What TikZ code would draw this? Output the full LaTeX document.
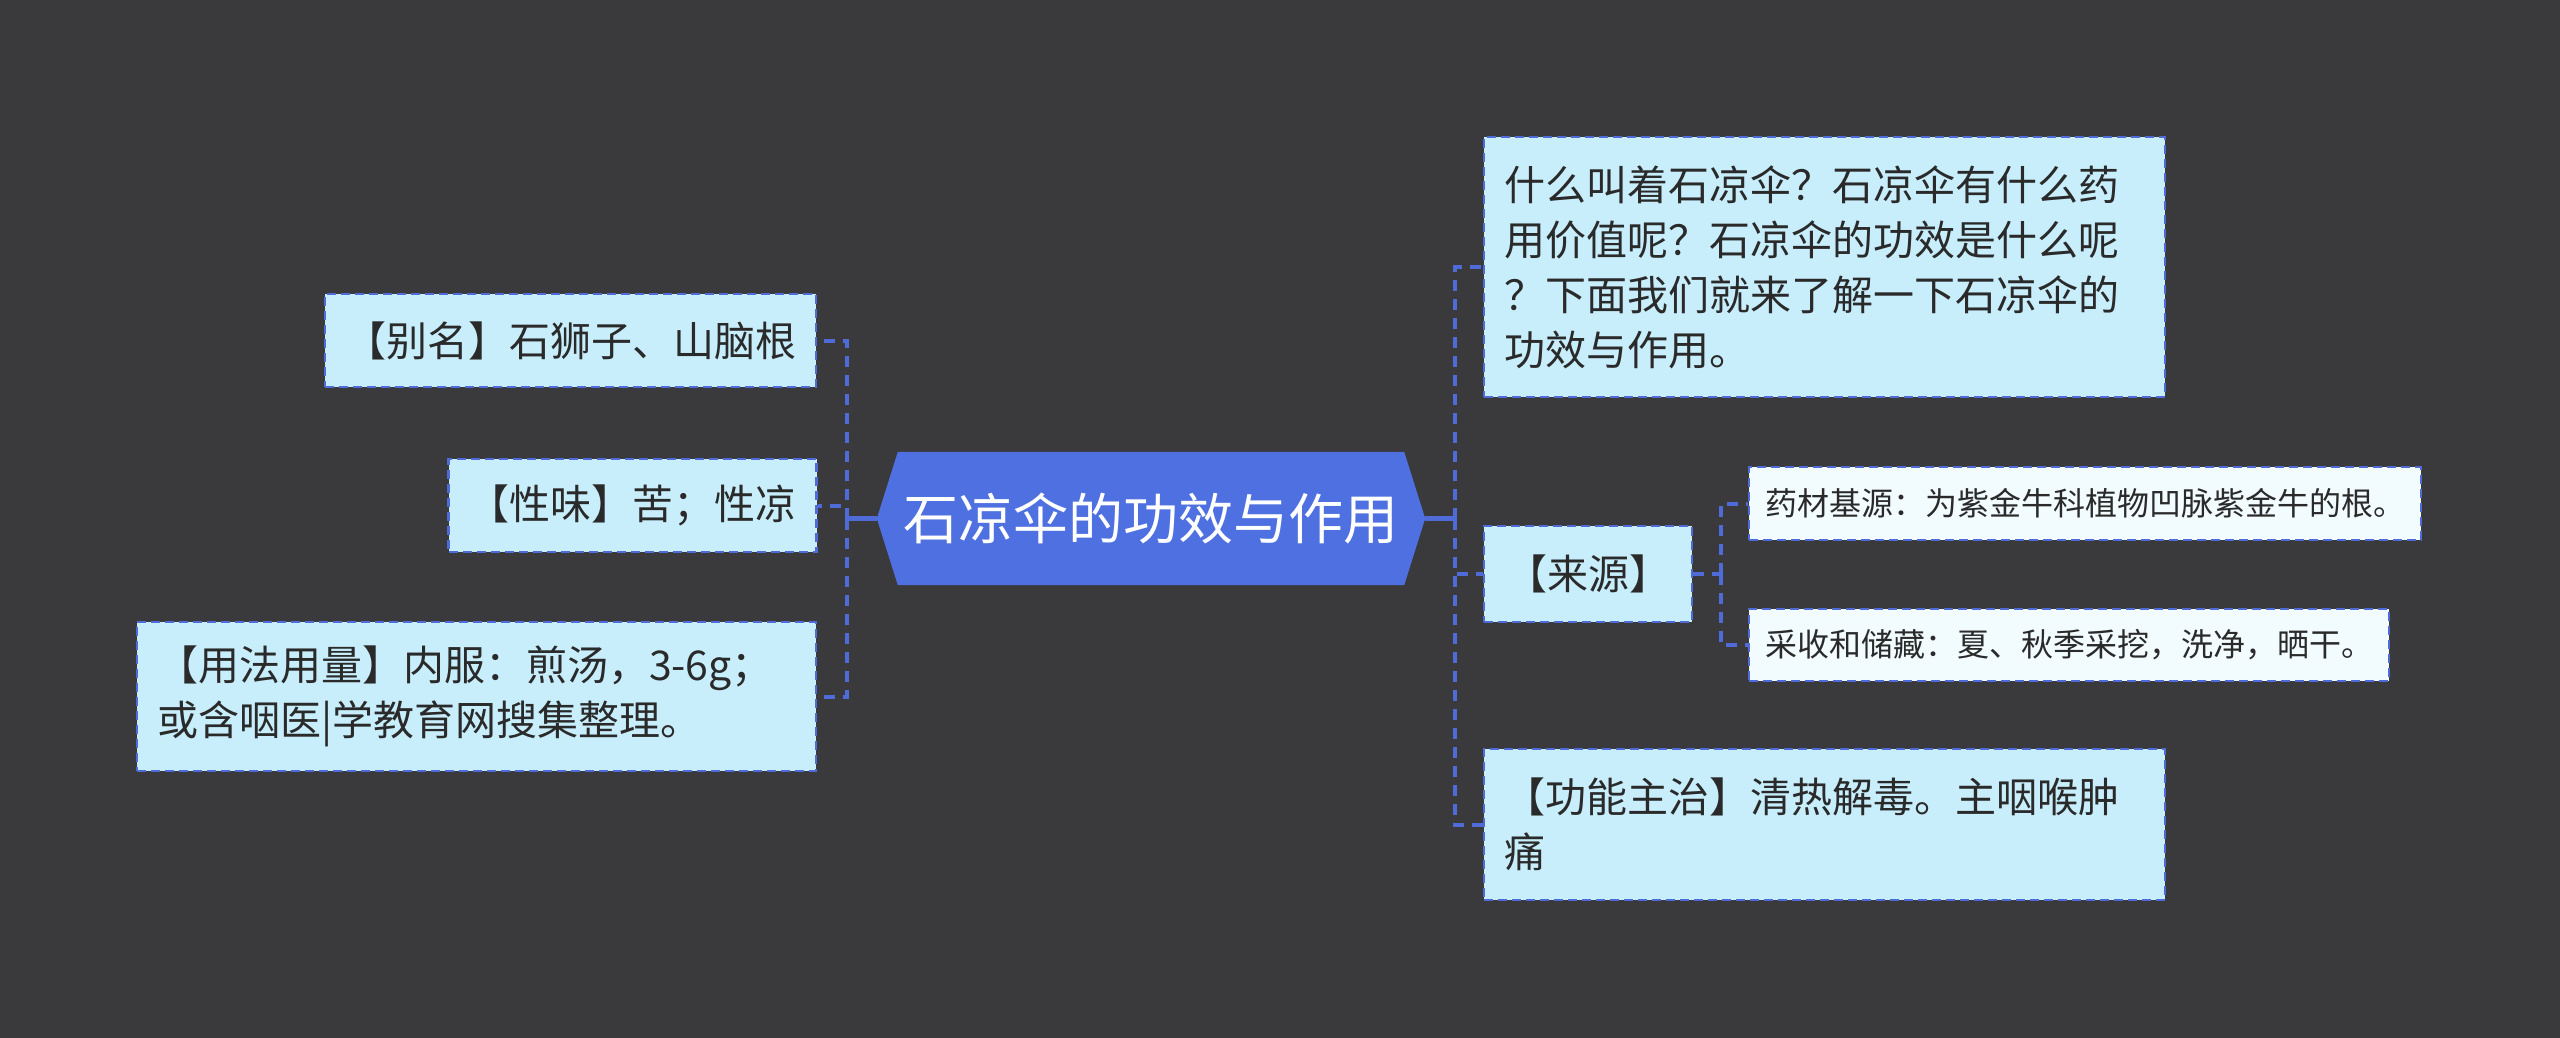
\documentclass[tikz,border=0pt]{standalone}
\usepackage{fontspec}
\setmainfont{Noto Sans CJK SC}
\usetikzlibrary{backgrounds}
\definecolor{bgc}{HTML}{3A393C}
\definecolor{hexc}{HTML}{4E70E0}
\definecolor{boxc}{HTML}{C8EEFC}
\definecolor{subc}{HTML}{F2FBFE}
\definecolor{linec}{HTML}{4F6BD8}
\definecolor{txtc}{HTML}{2A2A2A}
\begin{document}
\begin{tikzpicture}[x=1pt,y=-1pt,
  box/.style={draw=linec, line width=2.6pt, dash pattern=on 9pt off 5pt, fill=boxc, text=txtc,
    inner xsep=20pt, inner ysep=0pt, font=\fontsize{41}{55}\selectfont, align=left},
  subbox/.style={box, fill=subc, inner xsep=16pt, font=\fontsize{32}{40}\selectfont},
  hexnode/.style={minimum width=506pt, minimum height=133pt, inner sep=0pt, text=white,
    font=\fontsize{55}{60}\selectfont},
  trunk/.style={draw=linec, line width=5pt},
  branch/.style={draw=linec, line width=4pt, dash pattern=on 11pt off 8pt}]
\useasboundingbox (0,0) rectangle (2560,1038);
% central topic
\node[hexnode] (c) at (1151,518.5) {石凉伞的功效与作用};
% left side
\node[box, minimum width=491pt, minimum height=93pt] (a) at (570.5,340.5) {【别名】石狮子、山脑根};
\node[box, minimum width=367pt, minimum height=93pt] (b) at (632.5,505.5) {【性味】苦；性凉};
\node[box, text width=639pt, minimum height=149pt] (u) at (476.5,696.5)
  {【用法用量】内服：煎汤，3-6g；\\或含咽医|学教育网搜集整理。};
% right side
\node[box, text width=641pt, minimum height=260pt] (t) at (1824.5,267)
  {什么叫着石凉伞？石凉伞有什么药\\用价值呢？石凉伞的功效是什么呢\\？下面我们就来了解一下石凉伞的\\功效与作用。};
\node[box, minimum width=208pt, minimum height=96pt] (s) at (1588,574) {【来源】};
\node[box, text width=641pt, minimum height=151pt] (f) at (1824.5,824.5)
  {【功能主治】清热解毒。主咽喉肿\\痛};
\node[subbox, minimum width=672pt, minimum height=73pt] (s1) at (2085,503.5) {药材基源：为紫金牛科植物凹脉紫金牛的根。};
\node[subbox, minimum width=640pt, minimum height=72pt] (s2) at (2069,645) {采收和储藏：夏、秋季采挖，洗净，晒干。};
\begin{scope}[on background layer]
  \fill[bgc] (0,0) rectangle (2560,1038);
  \fill[hexc] ([xshift=-21pt]c.west) coordinate (cl) -- (c.north west) -- (c.north east)
    -- ([xshift=21pt]c.east) coordinate (cr) -- (c.south east) -- (c.south west) -- cycle;
  \coordinate (L) at (847,518.5);
  \coordinate (R) at (1455,518.5);
  \coordinate (S) at (1721,574);
  \draw[trunk] (cl) -- (L);
  \draw[trunk] (cr) -- (R);
  \draw[branch] (L) |- (a.east);
  \draw[branch] (L) |- (b.east);
  \draw[branch] (L) |- (u.east);
  \draw[branch] (R) |- (t.west);
  \draw[branch] (R) |- (s.west);
  \draw[branch] (R) |- (f.west);
  \draw[branch] (s.east) -- (S);
  \draw[branch] (S) |- (s1.west);
  \draw[branch] (S) |- (s2.west);
\end{scope}
\end{tikzpicture}
\end{document}
